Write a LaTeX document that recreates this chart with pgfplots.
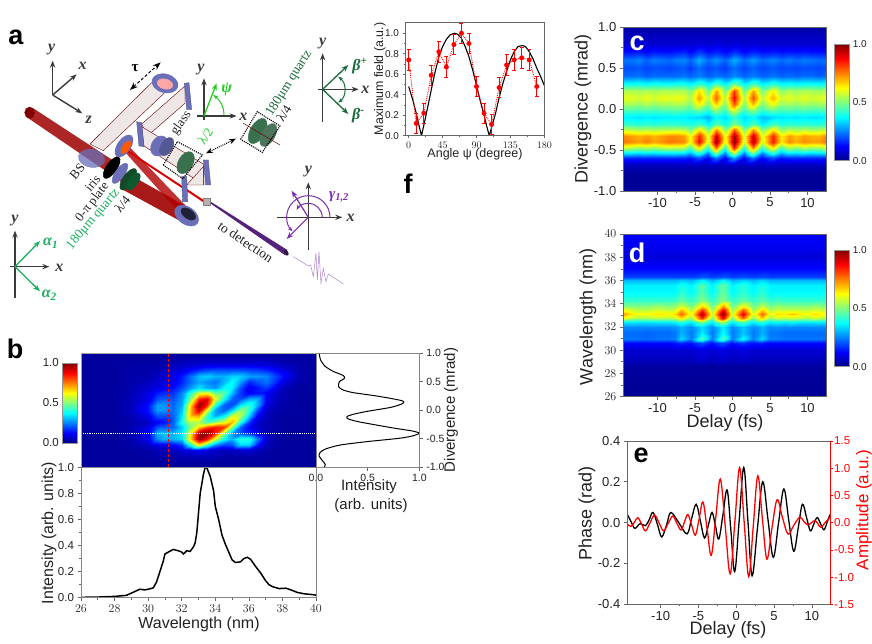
\documentclass[border=0pt]{standalone}
\usepackage{fontspec}
\setmainfont{Liberation Sans}
\newfontfamily\serifa{Liberation Serif}
\usepackage{pgfplots}
\pgfplotsset{compat=1.18}
\usetikzlibrary{arrows.meta}
\newcommand\fs[1]{\fontsize{#1}{#1}\selectfont}
\definecolor{axg}{HTML}{666666}
\definecolor{txt}{HTML}{222222}
\definecolor{optb}{HTML}{6A6FB8}
\definecolor{tri}{HTML}{3A3A3A}
\definecolor{gn}{HTML}{1DB060}
\definecolor{lgn}{HTML}{22CC22}
\definecolor{dgn}{HTML}{1B6B3A}
\definecolor{pur}{HTML}{7A30B0}
\definecolor{pale}{HTML}{EFE6E6}
\newcommand\mkmesh[3]{\gdef#1{}\foreach \yy/\vals in {#3}{\foreach \v [count=\i from 0] in \vals {\pgfmathsetmacro\xx{{#2}[\i]}\xdef#1{#1(\xx,\yy)[\v] }}}}
\pgfplotsset{
 base/.style={scale only axis, anchor=north west, axis line style={draw=axg,line width=.7pt},
  tick style={draw=axg,line width=.7pt}, tick align=outside, major tick length=3.5pt, minor tick length=2pt,
  xtick pos=bottom, ytick pos=left, axis on top, ticklabel style={text=txt}},
 heat/.style={surf,shader=interp,point meta=explicit},
 cbar/.style={base, width=15pt, xmin=0,xmax=1,ymin=0,ymax=1, xtick=\empty, ytick pos=right, ytick={0,.5,1}, yticklabels={0.0,0.5,1.0}, major tick length=0pt, point meta min=0, point meta max=1, colormap/jet, axis line style={draw=axg!70,line width=.6pt}},
}
\mkmesh\meshC{-14.6,-13.5,-12.5,-11.5,-10.5,-9.5,-8.5,-7.5,-6.5,-5.7,-4.5,-3.3,-2.2,-1.0,0.2,1.5,2.7,4.0,5.4,6.5,7.5,8.5,9.5,10.5,11.5,12.5}{
1/{4,4,4,4,4,4,4,4,4,4,4,4,4,4,4,4,4,4,4,4,4,4,4,4,4,4},
.9/{6,6,6,6,6,6,6,6,6,6,6,6,6,6,6,6,6,6,6,6,6,6,6,6,6,6},
.8/{8,8,8,8,8,8,8,8,8,8,9,8,9,8,9,8,9,8,8,8,8,8,8,8,8,8},
.7/{14,14,15,13,15,14,14,15,16,13,18,14,16,13,17,13,16,14,15,14,15,14,15,14,14,14},
.6/{24,24,26,22,25,24,23,25,26,22,30,23,27,22,30,23,28,23,26,23,25,23,25,24,23,24},
.5/{20,20,21,19,20,20,19,20,21,18,23,19,21,18,23,19,22,19,21,19,20,19,20,20,19,20},
.4/{23,23,24,22,23,23,23,23,24,22,25,22,24,22,26,22,25,22,24,22,23,22,23,23,22,23},
.3/{41,41,42,40,42,41,41,42,42,39,46,39,48,39,52,39,48,39,45,40,41,40,41,41,40,41},
.22/{55,55,54,55,54,55,55,55,55,50,66,49,72,48,82,48,72,49,64,51,55,53,55,54,54,55},
.14/{60,60,58,61,58,61,60,61,60,55,72,56,78,55,88,55,80,56,70,58,60,58,60,58,59,60},
.06/{54,54,52,55,52,54,54,55,54,50,64,50,68,50,80,50,70,50,62,52,54,52,54,52,53,54},
-.02/{44,44,43,44,43,44,44,45,44,42,46,40,50,42,58,42,50,41,46,43,44,43,44,43,43,44},
-.1/{36,36,35,36,35,36,36,36,36,35,34,30,38,34,42,34,38,31,34,35,36,35,36,35,35,36},
-.18/{42,42,41,42,41,42,42,42,41,40,44,36,46,38,50,38,46,36,44,40,42,41,42,41,41,42},
-.26/{58,56,55,56,55,56,56,57,56,50,66,50,74,50,80,50,74,50,66,52,56,54,56,54,55,58},
-.33/{74,72,70,72,70,72,74,74,72,62,84,60,92,60,96,60,92,60,84,64,72,68,72,70,70,74},
-.4/{76,74,72,75,71,73,76,75,74,62,88,58,98,58,100,58,96,58,86,64,74,70,74,72,72,76},
-.47/{56,54,52,54,52,54,55,55,54,44,64,42,76,40,84,40,74,42,64,44,54,50,54,52,52,56},
-.54/{36,36,34,36,34,36,36,36,35,30,42,26,50,26,56,26,50,26,42,30,36,34,36,34,35,36},
-.6/{16,16,16,16,16,16,16,16,16,14,20,12,24,12,28,12,24,12,20,14,16,16,16,16,16,16},
-.68/{6,6,6,6,6,6,6,6,6,6,6,6,6,6,6,6,6,6,6,6,6,6,6,6,6,6},
-.8/{2,2,2,2,2,2,2,2,2,2,2,2,2,2,2,2,2,2,2,2,2,2,2,2,2,2},
-1/{3,3,3,3,3,3,3,3,3,3,3,3,3,3,3,3,3,3,3,3,3,3,3,3,3,3}}
\mkmesh\meshD{-14.6,-13,-11.5,-10,-8.5,-7.7,-6.9,-5.5,-4.0,-2.7,-1.3,0,1.4,2.7,3.9,5,6,7,8,9,10,11,12.5}{
40/{12,12,12,12,12,12,12,12,12,12,12,12,12,12,12,12,12,12,12,12,12,12,12},
39/{11,11,11,11,11,11,11,11,11,11,11,11,11,11,11,11,11,11,11,11,11,11,11},
38/{9,9,9,9,9,9,9,9,9,9,9,9,9,9,9,9,9,9,9,9,9,9,9},
37/{13,13,13,13,13,13,13,13,13,13,13,13,13,13,13,13,13,13,13,13,13,13,13},
36.3/{19,19,19,19,19,19,19,19,21,19,21,19,20,19,20,19,19,19,19,19,19,19,19},
36/{30,30,30,30,30,30,32,30,36,30,37,30,33,30,33,30,30,30,30,30,30,30,30},
35.6/{36,36,36,36,36,36,40,36,46,36,48,36,42,36,40,36,36,36,36,36,36,36,36},
35/{37,37,37,37,37,37,42,37,46,37,48,37,42,37,42,37,37,37,37,37,37,37,37},
34.3/{42,42,42,42,42,43,47,42,50,42,51,42,47,42,46,42,43,42,42,42,42,42,42},
33.8/{50,50,50,52,50,52,58,49,66,48,72,48,62,48,56,49,52,50,50,50,50,52,50},
33.4/{64,58,58,60,58,60,72,56,86,54,92,54,82,54,70,56,60,59,60,59,58,60,58},
33.1/{72,62,62,65,63,66,78,60,96,58,100,58,90,58,78,60,66,64,68,64,62,66,62},
32.8/{62,54,54,56,55,57,66,52,84,50,90,50,78,50,68,52,58,56,58,56,54,58,54},
32.4/{36,36,35,36,36,37,42,36,50,36,55,36,46,36,42,36,38,36,38,36,36,36,36},
32/{26,26,26,26,26,27,30,26,34,26,36,26,32,26,30,26,27,26,26,26,26,26,26},
31.5/{23,23,22,23,23,24,30,24,36,24,38,24,32,24,30,24,24,23,23,23,23,23,23},
31/{24,24,23,24,24,25,34,25,46,25,46,25,38,25,34,25,25,24,24,24,24,24,24},
30.6/{13,13,13,13,13,14,16,14,20,14,20,14,17,14,15,13,13,13,13,13,13,13,13},
30/{8,8,8,8,8,8,8,8,10,8,10,8,9,8,8,8,8,8,8,8,8,8,8},
29.2/{6,6,6,6,6,6,6,6,8,6,8,6,7,6,6,6,6,6,6,6,6,6,6},
28.6/{3,3,3,3,3,3,3,3,3,3,3,3,3,3,3,3,3,3,3,3,3,3,3},
26/{2,2,2,2,2,2,2,2,2,2,2,2,2,2,2,2,2,2,2,2,2,2,2}}
\mkmesh\meshB{26,28,29,30,30.5,31,31.5,32,32.5,33,33.5,34,34.5,35,35.5,36,36.5,37,37.5,38,39,40}{
1/{3,3,3,3,3,3,3,3,3,3,3,3,3,3,3,3,3,3,3,3,3,3},
.9/{3,3,3,3,3,4,4,4,5,5,5,5,5,5,5,5,5,5,4,4,3,3},
.8/{3,3,4,4,4,5,6,7,8,9,10,10,10,10,10,10,10,9,8,6,4,3},
.7/{3,3,4,4,5,6,8,10,13,17,19,20,20,20,20,19,18,16,13,10,4,3},
.6/{3,3,4,5,6,8,10,15,23,31,33,30,30,33,33,28,28,26,20,14,5,3},
.5/{3,3,4,6,8,9,11,16,23,29,26,24,31,38,28,16,20,24,18,10,4,3},
.4/{3,3,5,8,10,12,14,20,28,36,30,28,38,36,20,10,14,18,12,6,3,3},
.3/{3,3,5,10,15,17,17,26,42,60,62,48,46,30,18,12,14,12,8,5,3,3},
.2/{3,3,6,10,20,22,20,28,50,85,90,60,38,22,20,30,30,12,7,5,3,3},
.1/{3,3,6,14,28,27,22,30,65,98,85,42,22,20,35,42,30,10,6,4,3,3},
0/{3,3,6,14,28,27,23,33,68,92,60,28,22,33,52,42,20,7,5,4,3,3},
-.1/{3,3,5,10,20,20,22,36,68,70,42,30,38,60,55,32,12,6,4,3,3,3},
-.2/{3,3,4,7,12,14,22,40,55,55,45,52,60,70,42,18,8,5,4,3,3,3},
-.3/{3,3,5,10,20,22,22,33,50,68,80,85,82,50,22,12,7,5,4,3,3,3},
-.4/{3,3,5,12,30,32,30,36,62,97,100,85,52,28,20,16,9,5,4,3,3,3},
-.5/{3,3,4,10,26,30,30,34,65,98,85,58,38,30,42,42,25,8,4,3,3,3},
-.6/{3,3,4,6,10,10,12,18,38,62,42,25,18,20,33,32,15,6,4,3,3,3},
-.7/{3,3,3,4,5,6,6,8,10,12,10,7,6,6,8,8,6,4,3,3,3,3},
-.8/{3,3,3,3,4,4,4,5,5,6,6,5,4,4,4,4,4,3,3,3,3,3},
-.9/{3,3,3,3,3,3,3,3,3,3,3,3,3,3,3,3,3,3,3,3,3,3},
-1/{3,3,3,3,3,3,3,3,3,3,3,3,3,3,3,3,3,3,3,3,3,3}}
\newcommand\heatplot[2]{\edef\tmpplot{\noexpand\addplot[heat,mesh/cols=#2] coordinates {#1};}\tmpplot}
\newcommand\axl[1]{{\serifa\bfseries\itshape #1}}
\newcommand\disc[6][optb]{\draw[#1,fill=#1,shift={(#2,#3)},rotate=#6,line width=.4pt] (0,0) ellipse (#4 and #5);}
\begin{document}
\begin{tikzpicture}
\path[use as bounding box] (0pt,0pt) rectangle (872pt,-643pt);
% ---------- panel a: optical layout (zoom coordinates)
\begin{scope}[x=.3333pt,y=-.3333pt,shift={(0pt,-20pt)}]
 % pale arms
 \draw[draw=red!40!black,line width=.4pt,fill=pale] (270,372)--(465,178)--(505,208)--(310,392)--cycle;
 \draw[draw=red!40!black,line width=.4pt,fill=pale] (555,198)--(425,312)--(442,348)--(555,250)--cycle;
 \draw[draw=red!40!black,line width=.4pt,fill=pale] (425,320)--(610,432)--(612,495)--(432,378)--cycle;
 \draw[draw=red!40!black,line width=.4pt,fill=pale] (610,440)--(610,495)--(560,495)--cycle;
 % main beams
 \fill[red!62!black,opacity=.85] (78,290)--(100,265)--(345,425)--(325,458)--cycle;
 \disc[red!50!black]{89}{278}{15}{17}{0}
 \fill[red!62!black,opacity=.9] (345,440)--(400,470)--(560,560)--(535,600)--(370,510)--cycle;
 \fill[red!70!black,opacity=.8] (365,385)--(388,380)--(560,560)--(535,575)--cycle;
 \fill[red!85!black] (365,378)--(385,398)--(612,548)--(608,538)--cycle;
 \fill[pur!70!black] (628,548)--(632,545)--(862,690)--(856,706)--cycle;
 \disc[pur!40!black]{859}{698}{5}{9}{30}
 \draw[gray,fill=gray!60] (611,535) rectangle (632,556);
 % optics
 \disc[optb]{495}{190}{40}{28}{-15}
 \disc[red!35!white]{495}{192}{24}{15}{-15}
 \draw[optb!80!black,fill=optb] (553,190)--(567,188)--(575,268)--(560,268)--cycle;
 \draw[optb!80!black,fill=optb] (410,305)--(425,308)--(432,380)--(417,378)--cycle;
 \draw[optb!80!black,fill=optb] (610,420)--(625,420)--(632,495)--(617,495)--cycle;
 \draw[optb!80!black,fill=optb] (545,470)--(560,470)--(563,545)--(548,545)--cycle;
 \begin{scope}[opacity=.75]
 \disc[optb]{275}{415}{40}{27}{-10}
 \end{scope}
 \disc[optb]{372}{378}{38}{20}{55}
 \disc[orange!70!red]{378}{382}{22}{10}{55}
 \disc[black]{335}{443}{38}{16}{55}
 \disc[optb]{360}{460}{36}{14}{55}
 \disc[dgn!70!black]{385}{478}{38}{16}{55}
 \disc[gn!50!black]{400}{485}{30}{14}{55}
 \disc[optb]{478}{378}{32}{24}{60}
 \disc[optb!80!black]{500}{380}{30}{18}{60}
 \disc[dgn!70!gray]{557}{428}{36}{22}{60}
 \disc[optb]{560}{587}{40}{26}{-35}
 \disc[optb!30!black]{565}{582}{25}{14}{-35}
 \disc[dgn!70!gray]{773}{333}{42}{22}{60}
 \disc[dgn!50!gray]{805}{345}{38}{20}{60}
 \draw[red!50!black,line width=.5pt] (730,310)--(840,375);
 % dotted boxes, arrows
 \draw[black,line width=1.1pt,densely dotted] (490,435)--(532,365)--(607,405)--(548,476)--cycle;
 \draw[black,line width=1.1pt,densely dotted] (722,358)--(772,275)--(840,318)--(787,397)--cycle;
 \draw[black,line width=1pt,densely dotted,{Stealth[length=7pt]}-{Stealth[length=7pt]}] (618,400)--(708,356);
 \draw[black,line width=1pt,densely dashed,{Stealth[length=8pt]}-{Stealth[length=8pt]}] (390,210)--(482,127);
 \node[font=\serifa\bfseries\fs{15}] at (405,143) {τ};
 % triads
 \draw[tri,line width=1.4pt,-{Stealth[length=7pt]}] (158,225)--(158,122);
 \draw[tri,line width=1.4pt,-{Stealth[length=7pt]}] (158,225)--(230,163);
 \draw[tri,line width=1.4pt,-{Stealth[length=7pt]}] (158,225)--(247,280);
 \node[text=tri,font=\fs{16}] at (155,88) {\axl{y}};
 \node[text=tri,font=\fs{16}] at (248,138) {\axl{x}};
 \node[text=tri,font=\fs{16}] at (266,300) {\axl{z}};
 % psi
 \draw[tri,line width=1.2pt,-{Stealth[length=7pt]}] (612,300)--(612,175);
 \draw[tri,line width=1.2pt,-{Stealth[length=7pt]}] (592,288)--(710,288);
 \draw[lgn,line width=1.3pt,-{Stealth[length=7pt]}] (612,288)--(650,190);
 \draw[lgn,line width=1pt,-{Stealth[length=5pt]}] (672,285) .. controls (672,260) and (660,240) .. (640,225);
 \node[text=lgn,font=\fs{16}] at (680,208) {\axl{ψ}};
 \node[text=tri,font=\fs{16}] at (603,148) {\axl{y}};
 \node[text=tri,font=\fs{16}] at (730,290) {\axl{x}};
 % beta
 \draw[tri,line width=1.2pt,-{Stealth[length=7pt]}] (968,305)--(968,100);
 \draw[tri,line width=1.2pt,-{Stealth[length=7pt]}] (955,208)--(1076,208);
 \draw[dgn,line width=1.3pt,-{Stealth[length=7pt]}] (968,208)--(1045,135);
 \draw[dgn,line width=1.3pt,-{Stealth[length=7pt]}] (968,208)--(1045,282);
 \draw[dgn,line width=1pt,{Stealth[length=5pt]}-{Stealth[length=5pt]}] (1015,170) .. controls (1040,190) and (1040,228) .. (1015,248);
 \node[text=tri,font=\fs{16}] at (968,70) {\axl{y}};
 \node[text=tri,font=\fs{16}] at (1096,209) {\axl{x}};
 \node[text=dgn,font=\fs{16}] at (1080,138) {\axl{β\textsuperscript{+}}};
 \node[text=dgn,font=\fs{16}] at (1075,288) {\axl{β\textsuperscript{-}}};
 % gamma
 \draw[tri,line width=1.2pt,-{Stealth[length=7pt]}] (925,690)--(925,487);
 \draw[tri,line width=1.2pt,-{Stealth[length=7pt]}] (830,592)--(1027,592);
 \draw[pur,line width=1.2pt,-{Stealth[length=7pt]}] (925,592)--(875,512);
 \draw[pur,line width=1.2pt,-{Stealth[length=7pt]}] (925,592)--(860,657);
 \draw[pur,line width=1pt,-{Stealth[length=5pt]}] (990,592) .. controls (990,556) and (961,527) .. (925,527) .. controls (889,527) and (860,556) .. (860,592) .. controls (860,610) and (866,622) .. (878,634);
 \draw[pur,line width=1pt,-{Stealth[length=5pt]}] (967,592) .. controls (967,569) and (948,550) .. (925,550) .. controls (910,550) and (897,557) .. (890,570);
 \node[text=pur,font=\fs{15}] at (1017,530) {\axl{γ\textsubscript{1,2}}};
 \node[text=tri,font=\fs{16}] at (925,455) {\axl{y}};
 \node[text=tri,font=\fs{16}] at (1052,595) {\axl{x}};
 % alpha
 \draw[tri,line width=1.2pt,-{Stealth[length=7pt]}] (45,835)--(45,632);
 \draw[tri,line width=1.2pt,-{Stealth[length=7pt]}] (30,740)--(148,740);
 \draw[gn,line width=1.3pt,-{Stealth[length=7pt]}] (45,740)--(120,663);
 \draw[gn,line width=1.3pt,-{Stealth[length=7pt]}] (45,740)--(120,814);
 \node[text=gn,font=\fs{16}] at (152,670) {\axl{α\textsubscript{1}}};
 \node[text=gn,font=\fs{16}] at (148,825) {\axl{α\textsubscript{2}}};
 \node[text=tri,font=\fs{16}] at (45,602) {\axl{y}};
 \node[text=tri,font=\fs{16}] at (178,743) {\axl{x}};
 % pulse
 \draw[pur!60!white,line width=.5pt] (880,710)--(925,738)--(932,735)--(940,770)--(948,700)--(952,780)--(957,695)--(963,790)--(970,745)--(978,785)--(985,762)--(1030,792);
 % rotated labels
 \node[rotate=50,text=txt,font=\serifa\fs{13}] at (232,455) {BS};
 \node[rotate=50,text=txt,font=\serifa\fs{13}] at (278,490) {iris};
 \node[rotate=52,text=txt,font=\serifa\fs{13}] at (278,547) {0-π plate};
 \node[rotate=50,text=gn,font=\serifa\fs{13.5}] at (280,598) {180μm quartz};
 \node[rotate=50,text=txt,font=\serifa\fs{13}] at (367,553) {λ/4};
 \node[rotate=55,text=txt,font=\serifa\fs{13}] at (544,310) {glass};
 \node[rotate=55,text=lgn,font=\serifa\fs{13}] at (616,350) {λ/2};
 \node[rotate=58,text=dgn,font=\serifa\fs{13.5}] at (868,190) {180μm quartz};
 \node[rotate=58,text=txt,font=\serifa\fs{13}] at (852,280) {λ/4};
 \node[rotate=-34,text=txt,font=\serifa\fs{13.5}] at (737,666) {to detection};
\end{scope}
% ---------- panel c
\begin{axis}[base,at={(623.3pt,-27.3pt)},width=202.7pt,height=163.7pt,
 xmin=-14.56,xmax=12.47,ymin=-1,ymax=1,point meta min=0,point meta max=100,colormap/jet,
 xtick={-10,-5,0,5,10},xticklabels={-10,-5,0,5,10},minor x tick num=1,
 ytick={-1,-.5,0,.5,1},yticklabels={-1.0,-0.5,0.0,0.5,1.0},minor y tick num=1,
 tick label style={font=\fs{13}}]
 \heatplot{\meshC}{26}
\end{axis}
\begin{axis}[cbar,at={(834.3pt,-44pt)},height=116.7pt,y tick label style={font=\fs{10}}]
 \addplot[surf,shader=interp,mesh/cols=2,point meta=explicit] coordinates {(0,0)[0] (1,0)[0] (0,1)[1] (1,1)[1]};
\end{axis}
\node[rotate=90,text=txt,font=\fs{18}] at (583pt,-109pt) {Divergence (mrad)};
% ---------- panel d
\begin{axis}[base,at={(623.3pt,-234pt)},width=202.7pt,height=162.7pt,
 xmin=-14.56,xmax=12.47,ymin=26,ymax=40,point meta min=0,point meta max=100,colormap/jet,
 xtick={-10,-5,0,5,10},xticklabels={-10,-5,0,5,10},minor x tick num=1,
 ytick={26,28,...,40},minor y tick num=1,
 tick label style={font=\fs{13}}]
 \heatplot{\meshD}{23}
\end{axis}
\begin{axis}[cbar,at={(834.3pt,-250pt)},height=116.7pt,y tick label style={font=\fs{10}}]
 \addplot[surf,shader=interp,mesh/cols=2,point meta=explicit] coordinates {(0,0)[0] (1,0)[0] (0,1)[1] (1,1)[1]};
\end{axis}
\node[rotate=90,text=txt,font=\fs{18}] at (588pt,-317pt) {Wavelength (nm)};
\node[text=txt,font=\fs{18}] at (725pt,-423pt) {Delay (fs)};
% ---------- panel e
\begin{axis}[base,at={(627.3pt,-441pt)},width=202.7pt,height=163.3pt,
 xmin=-14.4,xmax=12.4,ymin=-.4,ymax=.4,
 xtick={-10,-5,0,5,10},xticklabels={-10,-5,0,5,10},minor x tick num=1,
 ytick={-.4,-.2,0,.2,.4},yticklabels={-0.4,-0.2,0.0,0.2,0.4},
 tick label style={font=\fs{13}}]
 \addplot[black,line width=1.3pt,smooth,tension=.6] coordinates {(-14.4,.04)(-13.9,.005)(-13.4,-.028)(-12.7,-.005)(-12,-.015)(-11.5,.015)(-11,.05)(-10.4,-.01)(-9.85,-.07)(-9.2,-.01)(-8.65,.05)(-7.6,0)(-6.5,-.055)(-5.9,.02)(-5.3,.09)(-4.75,.01)(-4.2,-.075)(-3.7,-.015)(-3.2,.05)(-2.75,-.015)(-2.3,-.08)(-1.75,.04)(-1.2,.16)(-.7,-.04)(-.2,-.24)(.4,.015)(1,.27)(1.55,.005)(2.1,-.26)(2.8,-.03)(3.5,.2)(4.2,.015)(4.9,-.17)(5.6,0)(6.3,.165)(6.95,.01)(7.6,-.14)(8.2,-.025)(8.75,.09)(9.3,.025)(9.8,-.04)(10.25,-.008)(10.7,.025)(11.15,-.005)(11.6,-.035)(12,0)(12.4,.04)};
\end{axis}
\begin{axis}[scale only axis,anchor=north west,at={(627.3pt,-441pt)},width=202.7pt,height=163.3pt,
 xmin=-14.4,xmax=12.4,ymin=-1.5,ymax=1.5,axis x line=none,axis y line*=right,
 axis line style={draw=red,line width=.7pt,-},tick style={draw=red,line width=.7pt},tick align=outside,major tick length=2.5pt,
 ytick={-1.5,-1,-.5,0,.5,1,1.5},yticklabels={-1.5,-1.0,-0.5,0.0,0.5,1.0,1.5},
 y tick label style={font=\fs{11.5},text=red,inner xsep=1.5pt}]
 \addplot[red,line width=1.3pt,smooth,tension=.6] coordinates {(-14.4,-.03)(-13.9,-.07)(-13.45,.01)(-13,.09)(-12.5,-.03)(-12,-.15)(-11.4,-.005)(-10.8,.14)(-10.2,-.005)(-9.6,-.15)(-9,-.015)(-8.4,.12)(-7.85,-.01)(-7.3,-.135)(-6.85,.01)(-6.4,.15)(-5.9,-.04)(-5.4,-.23)(-4.9,.07)(-4.4,.38)(-3.85,-.11)(-3.3,-.6)(-2.7,.1)(-2.1,.8)(-1.45,-.07)(-.8,-.94)(-.17,.03)(.45,1.01)(1.05,.01)(1.65,-.99)(2.25,-.07)(2.85,.86)(3.45,.09)(4.05,-.67)(4.7,-.12)(5.4,.42)(6.1,.1)(6.85,-.21)(7.6,-.05)(8.4,.1)(8.9,.03)(9.45,-.04)(9.95,0)(10.4,.04)(10.8,-.02)(11.2,-.085)(11.8,.01)(12.4,.1)};
\end{axis}
\node[rotate=90,text=txt,font=\fs{18}] at (587pt,-513pt) {Phase (rad)};
\node[rotate=90,text=red,font=\fs{17}] at (864pt,-510pt) {Amplitude (a.u.)};
\node[text=txt,font=\fs{18}] at (728pt,-630pt) {Delay (fs)};
% ---------- panel f
\begin{axis}[base,at={(405pt,-22.7pt)},width=139.3pt,height=113pt,
 xmin=-4.9,xmax=180,ymin=0,ymax=1.103,
 xtick={0,45,90,135,180},minor x tick num=1,
 ytick={0,.2,.4,.6,.8,1},yticklabels={0.0,0.2,0.4,0.6,0.8,1.0},minor y tick num=1,
 major tick length=2.5pt,minor tick length=1.5pt,
 tick label style={font=\fs{10}}]
 \addplot[black,line width=1.1pt] coordinates {(0,.48)(5,.36)(10,.22)(14,.09)(17,0)(20,.1)(25,.27)(30,.45)(35,.62)(40,.77)(45,.87)(50,.94)(55,.985)(61,1)(65,.99)(70,.95)(75,.87)(80,.77)(85,.64)(90,.49)(95,.34)(100,.2)(104,.08)(107,0)(110,.08)(115,.21)(120,.37)(125,.51)(130,.63)(135,.74)(140,.82)(145,.87)(151,.88)(155,.87)(160,.82)(165,.75)(170,.66)(175,.58)(180,.49)};
 \addplot[red,densely dotted,line width=.9pt,mark=*,mark size=2pt,mark options={solid},
  error bars/.cd,y dir=both,y explicit,error bar style={solid,line width=.8pt},error mark options={rotate=90,mark size=2pt,line width=.8pt}] coordinates {
  (0,.74)+-(0,.1)(10,.12)+-(0,.1)(20,.22)+-(0,.1)(30,.59)+-(0,.1)(40,.82)+-(0,.1)(50,.67)+-(0,.1)(60,.89)+-(0,.1)(70,1.0)+-(0,.1)(80,.9)+-(0,.1)(90,.48)+-(0,.1)(100,.22)+-(0,.1)(110,.11)+-(0,.1)(120,.47)+-(0,.1)(130,.69)+-(0,.1)(140,.74)+-(0,.1)(150,.76)+-(0,.1)(160,.74)+-(0,.1)(170,.48)+-(0,.1)};
\end{axis}
\node[rotate=90,text=txt,font=\fs{12.4}] at (380pt,-79pt) {Maximum field (a.u.)};
\node[text=txt,font=\fs{12.5}] at (475pt,-154pt) {Angle ψ (degree)};
% ---------- panel b
\begin{axis}[base,at={(81pt,-353.3pt)},width=235pt,height=114pt,
 xmin=26,xmax=40,ymin=-1,ymax=1,point meta min=0,point meta max=100,colormap/jet,xtick=\empty,ytick=\empty,
 axis line style={draw=axg!60}]
 \heatplot{\meshB}{22}
 \addplot[red,densely dashed,line width=1pt] coordinates {(31.22,-1)(31.22,1)};
 \addplot[white,densely dotted,line width=1.1pt] coordinates {(26,-.4)(40,-.4)};
\end{axis}
\begin{axis}[cbar,at={(62.3pt,-363pt)},width=14.7pt,height=80pt,ytick pos=left,y tick label style={font=\fs{11.5}}]
 \addplot[surf,shader=interp,mesh/cols=2,point meta=explicit] coordinates {(0,0)[0] (1,0)[0] (0,1)[1] (1,1)[1]};
\end{axis}
\begin{axis}[base,at={(316pt,-353.3pt)},width=103.3pt,height=114pt,
 xmin=0,xmax=1,ymin=-1,ymax=1,ytick pos=right,
 xtick={0,.5,1},xticklabels={0.0,0.5,1.0},ytick={-1,-.5,0,.5,1},yticklabels={-1.0,-0.5,0.0,0.5,1.0},
 tick label style={font=\fs{10.5}},axis line style={draw=axg!80}]
 \addplot[black,line width=1pt,smooth,tension=.4] coordinates {(.03,1)(.045,.88)(.09,.77)(.17,.68)(.265,.61)(.275,.56)(.225,.5)(.22,.41)(.265,.355)(.36,.31)(.555,.26)(.72,.21)(.83,.17)(.85,.146)(.83,.11)(.72,.05)(.49,-.02)(.36,-.07)(.3,-.11)(.31,-.15)(.41,-.2)(.59,-.26)(.78,-.32)(.925,-.36)(1,-.4)(.945,-.445)(.81,-.49)(.49,-.55)(.23,-.61)(.09,-.68)(.04,-.74)(.03,-.8)(.065,-.89)(.09,-.95)(.08,-1)};
\end{axis}
\begin{axis}[base,at={(81pt,-467.3pt)},width=235pt,height=130.4pt,
 xmin=26,xmax=40,ymin=0,ymax=1,
 xtick={26,28,...,40},minor x tick num=1,
 ytick={0,.2,.4,.6,.8,1},yticklabels={0.0,0.2,0.4,0.6,0.8,1.0},minor y tick num=1,
 tick label style={font=\fs{11.5}},axis line style={draw=axg!80}]
 \addplot[black,line width=1.5pt] coordinates {(26,.003)(27,.005)(28,.01)(28.7,.018)(29,.035)(29.5,.065)(29.8,.06)(30,.065)(30.3,.075)(30.5,.12)(30.7,.2)(30.9,.28)(31,.335)(31.2,.35)(31.5,.37)(31.8,.36)(32,.35)(32.1,.335)(32.3,.36)(32.5,.355)(32.7,.39)(32.8,.42)(32.9,.5)(33,.65)(33.1,.8)(33.3,.95)(33.4,1)(33.5,.995)(33.7,.93)(33.9,.82)(34,.7)(34.2,.6)(34.4,.48)(34.6,.41)(34.8,.35)(35,.29)(35.2,.27)(35.5,.275)(35.7,.3)(35.9,.31)(36.1,.295)(36.4,.24)(36.7,.19)(37,.13)(37.2,.1)(37.4,.085)(37.8,.07)(38.2,.073)(38.5,.06)(38.9,.04)(39.3,.03)(39.7,.025)(40,.02)};
\end{axis}
\node[rotate=90,text=txt,font=\fs{16}] at (49pt,-533pt) {Intensity (arb. units)};
\node[text=txt,font=\fs{16}] at (199pt,-624pt) {Wavelength (nm)};
\node[rotate=90,text=txt,font=\fs{15}] at (451pt,-410pt) {Divergence (mrad)};
\node[text=txt,font=\fs{15}] at (369pt,-487pt) {Intensity};
\node[text=txt,font=\fs{15}] at (371pt,-506pt) {(arb. units)};
% panel letters
\node[font=\bfseries\fs{27},text=black] at (16pt,-37pt) {a};
\node[font=\bfseries\fs{27},text=black] at (15pt,-349pt) {b};
\node[font=\bfseries\fs{27},text=white] at (637pt,-43pt) {c};
\node[font=\bfseries\fs{27},text=white] at (637pt,-253pt) {d};
\node[font=\bfseries\fs{27},text=black] at (641pt,-455pt) {e};
\node[font=\bfseries\fs{27},text=black] at (408pt,-184pt) {f};
\end{tikzpicture}
\end{document}
